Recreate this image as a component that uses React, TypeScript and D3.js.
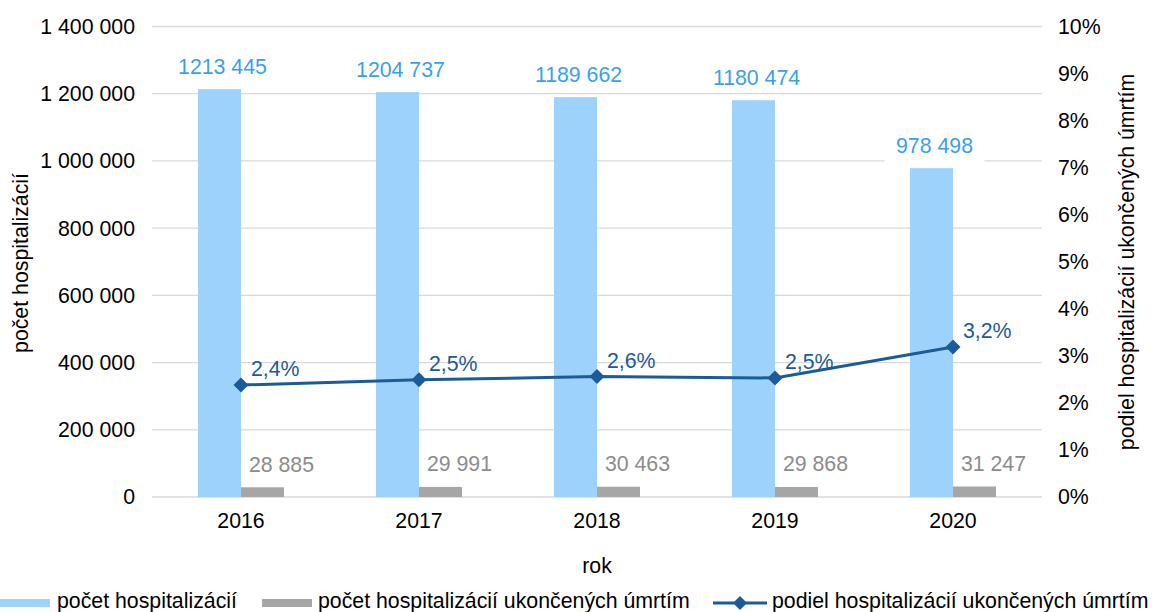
import React from "react";
import * as d3 from "d3";

const years = ["2016", "2017", "2018", "2019", "2020"];
const hospitalizations = [1213445, 1204737, 1189662, 1180474, 978498];
const hospLabels = ["1213 445", "1204 737", "1189 662", "1180 474", "978 498"];
const deaths = [28885, 29991, 30463, 29868, 31247];
const deathLabels = ["28 885", "29 991", "30 463", "29 868", "31 247"];
const shares = [2.38, 2.49, 2.56, 2.53, 3.19];
const shareLabels = ["2,4%", "2,5%", "2,6%", "2,5%", "3,2%"];
const leftTicks = [0, 200000, 400000, 600000, 800000, 1000000, 1200000, 1400000];
const leftTickLabels = ["0", "200 000", "400 000", "600 000", "800 000", "1 000 000", "1 200 000", "1 400 000"];
const rightTicks = [0, 1, 2, 3, 4, 5, 6, 7, 8, 9, 10];

const W = 1152;
const H = 612;
const plot = { left: 152, right: 1042, top: 26.5, bottom: 497 };
const FONT = "'Liberation Sans', Arial, sans-serif";
const FS = 21.3;
const BLUE = "#9dd2fd";
const GRAY = "#a6a6a6";
const LINE = "#1c5b99";
const GRID = "#d9d9d9";

export default function App() {
  const x = d3.scaleBand<string>().domain(years).range([plot.left, plot.right]).paddingInner(0.517).paddingOuter(0.2585);
  const xs = d3.scaleBand<string>().domain(["h", "d"]).range([0, x.bandwidth()]);
  const y = d3.scaleLinear().domain([0, 1400000]).range([plot.bottom, plot.top]);
  const y2 = d3.scaleLinear().domain([0, 10]).range([plot.bottom, plot.top]);
  const cx = (yr: string) => (x(yr) as number) + x.bandwidth() / 2;

  const line = d3
    .line<number>()
    .x((_, i) => cx(years[i]))
    .y((d) => y2(d));

  const diamond = (px: number, py: number, r: number) =>
    `M${px},${py - r}L${px + r},${py}L${px},${py + r}L${px - r},${py}Z`;

  return (
    <svg width={W} height={H} style={{ position: "fixed", left: 0, top: 0, background: "#fff" }} fontFamily={FONT}>
      {/* gridlines */}
      {leftTicks.map((t) => (
        <line key={t} x1={plot.left} x2={plot.right} y1={y(t)} y2={y(t)} stroke={GRID} strokeWidth={1.3} />
      ))}
      {/* bars */}
      {years.map((yr, i) => (
        <g key={yr} transform={`translate(${x(yr)},0)`}>
          <rect x={xs("h")} y={y(hospitalizations[i])} width={xs.bandwidth()} height={plot.bottom - y(hospitalizations[i])} fill={BLUE} />
          <rect x={xs("d")} y={y(deaths[i])} width={xs.bandwidth()} height={plot.bottom - y(deaths[i])} fill={GRAY} />
        </g>
      ))}
      {/* bar labels */}
      {years.map((yr, i) => {
        const bx = (x(yr) as number) + (xs("h") as number) + xs.bandwidth() / 2 + 3;
        const by = y(hospitalizations[i]) - 23;
        return (
          <g key={"hl" + yr}>
            {i === years.length - 1 && <rect x={bx - 50} y={by - 17} width={100} height={34} fill="#fff" />}
            <text x={bx} y={by} dy="0.35em" textAnchor="middle" fontSize={FS} fill="#3a9ff0">
              {hospLabels[i]}
            </text>
          </g>
        );
      })}
      {years.map((yr, i) => {
        const bx = (x(yr) as number) + (xs("d") as number) + xs.bandwidth() / 2 + 19;
        const by = y(deaths[i]) - 23;
        return (
          <text key={"dl" + yr} x={bx} y={by} dy="0.35em" textAnchor="middle" fontSize={FS} fill="#8c8c8c">
            {deathLabels[i]}
          </text>
        );
      })}
      {/* line */}
      <path d={line(shares) || ""} fill="none" stroke={LINE} strokeWidth={3} />
      {shares.map((s, i) => (
        <path key={"m" + i} d={diamond(cx(years[i]), y2(s), 7.5)} fill={LINE} />
      ))}
      {shares.map((s, i) => (
        <text key={"sl" + i} x={cx(years[i]) + 10} y={y2(s) - 16} dy="0.35em" fontSize={FS} fill={LINE}>
          {shareLabels[i]}
        </text>
      ))}
      {/* left axis */}
      {leftTicks.map((t, i) => (
        <text key={"lt" + t} x={135} y={y(t)} dy="0.35em" textAnchor="end" fontSize={FS} fill="#000">
          {leftTickLabels[i]}
        </text>
      ))}
      {/* right axis */}
      {rightTicks.map((t) => (
        <text key={"rt" + t} x={1058} y={y2(t)} dy="0.35em" fontSize={FS} fill="#000">
          {t + "%"}
        </text>
      ))}
      {/* x axis */}
      {years.map((yr) => (
        <text key={"xt" + yr} x={cx(yr)} y={521} dy="0.35em" textAnchor="middle" fontSize={FS} fill="#000">
          {yr}
        </text>
      ))}
      <text x={(plot.left + plot.right) / 2} y={566} dy="0.35em" textAnchor="middle" fontSize={FS} fill="#000">
        rok
      </text>
      <text transform={`translate(21,${263}) rotate(-90)`} dy="0.35em" textAnchor="middle" fontSize={FS} fill="#000">
        počet hospitalizácií
      </text>
      <text transform={`translate(1127,${262}) rotate(-90)`} dy="0.35em" textAnchor="middle" fontSize={FS} fill="#000">
        podiel hospitalizácií ukončených úmrtím
      </text>
      {/* legend */}
      <g fontSize={FS} fill="#000">
        <rect x={0} y={599} width={50} height={8} fill={BLUE} />
        <text x={57} y={601} dy="0.35em">počet hospitalizácií</text>
        <rect x={262} y={599} width={50} height={8} fill={GRAY} />
        <text x={318} y={601} dy="0.35em">počet hospitalizácií ukončených úmrtím</text>
        <line x1={713} x2={767} y1={603} y2={603} stroke={LINE} strokeWidth={3} />
        <path d={diamond(740, 603, 7)} fill={LINE} />
        <text x={772} y={601} dy="0.35em">podiel hospitalizácií ukončených úmrtím</text>
      </g>
    </svg>
  );
}
